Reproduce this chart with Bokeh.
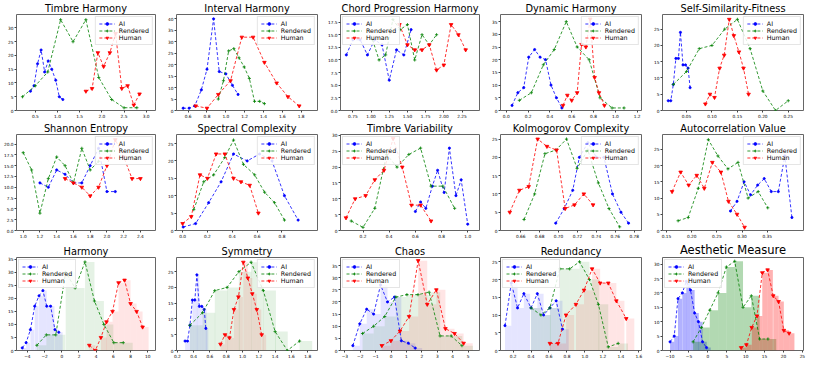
from bokeh.plotting import figure
from bokeh.layouts import gridplot
from bokeh.models import Range1d, FixedTicker, CustomJSTickFormatter, Legend, LegendItem
from bokeh.embed import file_html
from bokeh.resources import INLINE

# ---------------- data (bin positions / counts) ----------------
# Timbre Harmony
th_ai_x = [0.39, 0.47, 0.55, 0.63, 0.71, 0.79, 0.87, 0.96, 1.04, 1.12]
th_ai_y = [7, 9, 17, 22, 14, 18, 15, 11, 5, 4]
th_re_x = [0.21, 0.50, 0.78, 1.07, 1.35, 1.64, 1.93, 2.22, 2.50, 2.79]
th_re_y = [5, 9, 14, 33, 25, 33, 12, 4, 1, 1]
th_hu_x = [1.64, 1.78, 1.91, 2.04, 2.18, 2.31, 2.45, 2.58, 2.72, 2.85]
th_hu_y = [7, 8, 21, 16, 21, 28, 8, 9, 2, 6]
# Interval Harmony
ih_ai_x = [0.547, 0.61, 0.67, 0.74, 0.80, 0.87, 0.93, 1.00, 1.07, 1.13]
ih_ai_y = [1, 1, 2, 9, 18, 40, 17, 16, 11, 7]
ih_re_x = [0.92, 0.975, 1.03, 1.085, 1.14, 1.195, 1.25, 1.305, 1.36, 1.41]
ih_re_y = [5, 13, 26, 27, 23, 19, 14, 4, 4, 3]
ih_hu_x = [0.68, 0.80, 0.92, 1.05, 1.17, 1.29, 1.41, 1.54, 1.66, 1.78]
ih_hu_y = [2, 1, 7, 13, 32, 32, 21, 12, 6, 2]
# Chord Progression Harmony
cp_ai_x = [0.66, 0.75, 0.85, 0.95, 1.05, 1.15, 1.25, 1.35, 1.45, 1.55]
cp_ai_y = [11, 14, 14, 11, 14, 13, 6, 12, 11, 16]
cp_re_x = [1.02, 1.11, 1.20, 1.30, 1.40, 1.50, 1.60, 1.70, 1.80, 1.90]
cp_re_y = [14, 10, 11, 18, 16, 17, 10, 15, 13, 15]
cp_hu_x = [1.39, 1.50, 1.60, 1.70, 1.80, 1.90, 2.00, 2.10, 2.20, 2.30]
cp_hu_y = [17, 13, 12, 12, 13, 8, 9, 17, 15, 12]
# Dynamic Harmony
dh_ai_x = [0.053, 0.106, 0.16, 0.206, 0.26, 0.31, 0.36, 0.41, 0.46, 0.51]
dh_ai_y = [2, 7, 9, 21, 24, 21, 20, 10, 5, 1]
dh_re_x = [0.12, 0.23, 0.34, 0.44, 0.55, 0.65, 0.76, 0.86, 0.97, 1.08]
dh_re_y = [4, 7, 18, 24, 35, 25, 20, 5, 1, 1]
dh_hu_x = [0.52, 0.56, 0.60, 0.65, 0.69, 0.73, 0.77, 0.81, 0.85, 0.90]
dh_hu_y = [2, 6, 4, 7, 26, 25, 36, 13, 7, 2]
# Self-Similarity-Fitness
ss_ai_x = [0.014, 0.019, 0.024, 0.029, 0.034, 0.038, 0.043, 0.048, 0.053, 0.057]
ss_ai_y = [3, 3, 8, 16, 16, 24, 14, 14, 13, 7]
ss_re_x = [0.024, 0.05, 0.075, 0.10, 0.125, 0.15, 0.175, 0.20, 0.225, 0.25]
ss_re_y = [8, 12, 19, 20, 25, 28, 19, 6, 0, 3]
ss_hu_x = [0.087, 0.096, 0.105, 0.115, 0.124, 0.134, 0.143, 0.153, 0.162, 0.172]
ss_hu_y = [2, 5, 4, 13, 17, 28, 23, 18, 13, 5]
# Shannon Entropy
se_ai_x = [1.2, 1.3, 1.4, 1.5, 1.6, 1.7, 1.8, 1.9, 2.0, 2.1]
se_ai_y = [11, 10, 14, 13, 11, 11, 15, 19, 9, 9]
se_re_x = [1.0, 1.1, 1.2, 1.3, 1.4, 1.5, 1.6, 1.7, 1.8, 1.9]
se_re_y = [18, 14, 4, 12, 17, 15, 11, 19, 14, 16]
se_hu_x = [1.5, 1.6, 1.7, 1.8, 1.9, 2.0, 2.1, 2.2, 2.3, 2.4]
se_hu_y = [12, 11, 10, 8, 10, 15, 21, 17, 12, 12]
# Spectral Complexity
sc_ai_x = [0.005, 0.105, 0.21, 0.31, 0.41, 0.52, 0.62, 0.72, 0.82, 0.93]
sc_ai_y = [1, 2, 8, 14, 22, 20, 22, 20, 10, 3]
sc_re_x = [0.09, 0.17, 0.25, 0.34, 0.41, 0.49, 0.58, 0.66, 0.74, 0.82]
sc_re_y = [6, 14, 16, 21, 26, 19, 16, 11, 8, 3]
sc_hu_x = [0.0, 0.07, 0.14, 0.20, 0.27, 0.34, 0.41, 0.47, 0.54, 0.61]
sc_hu_y = [2, 4, 16, 15, 22, 22, 15, 14, 13, 5]
# Timbre Variability
tv_ai_x = [0.60, 0.64, 0.68, 0.73, 0.77, 0.82, 0.86, 0.91, 0.95, 1.0]
tv_ai_y = [6, 9, 7, 14, 19, 12, 26, 11, 16, 2]
tv_re_x = [0.11, 0.20, 0.29, 0.38, 0.46, 0.55, 0.64, 0.72, 0.81, 0.90]
tv_re_y = [3, 1, 7, 24, 20, 24, 26, 14, 14, 7]
tv_hu_x = [0.07, 0.14, 0.22, 0.29, 0.36, 0.43, 0.50, 0.57, 0.64, 0.72]
tv_hu_y = [4, 10, 11, 16, 19, 29, 20, 8, 8, 3]
# Kolmogorov Complexity
kc_ai_x = [0.697, 0.706, 0.715, 0.722, 0.731, 0.740, 0.748, 0.757, 0.766, 0.774]
kc_ai_y = [2, 6, 11, 20, 24, 20, 20, 10, 5, 2]
kc_re_x = [0.6635, 0.6747, 0.6856, 0.6972, 0.7084, 0.7196, 0.7309, 0.7421, 0.7533, 0.7646]
kc_re_y = [3, 10, 21, 22, 25, 17, 22, 13, 6, 1]
kc_hu_x = [0.6484, 0.6586, 0.6684, 0.6779, 0.6877, 0.6979, 0.707, 0.7168, 0.7267, 0.7365]
kc_hu_y = [5, 11, 12, 25, 23, 22, 6, 7, 10, 7]
# Autocorrelation Value
ac_ai_x = [0.277, 0.290, 0.304, 0.317, 0.331, 0.344, 0.358, 0.372, 0.385, 0.399]
ac_ai_y = [6, 9, 15, 11, 14, 16, 12, 12, 23, 4]
ac_re_x = [0.173, 0.193, 0.213, 0.233, 0.252, 0.272, 0.292, 0.312, 0.332, 0.351]
ac_re_y = [3, 4, 13, 28, 23, 19, 21, 10, 12, 7]
ac_hu_x = [0.161, 0.178, 0.194, 0.210, 0.225, 0.241, 0.258, 0.273, 0.290, 0.305]
ac_hu_y = [12, 18, 14, 17, 13, 21, 18, 9, 5, 1]
# Harmony
hm_ai_x = [-4.6, -4.15, -3.65, -3.15, -2.65, -2.2, -1.75, -1.3, -0.8, -0.35]
hm_ai_y = [1, 3, 8, 17, 21, 23, 17, 17, 8, 7]
hm_re_x = [-2.9, -1.8, -0.7, 0.45, 1.55, 2.7, 3.8, 4.9, 6.05, 7.15]
hm_re_y = [2, 6, 6, 30, 24, 34, 19, 10, 3, 3]
hm_hu_x = [3.2, 3.9, 4.55, 5.2, 5.9, 6.6, 7.3, 8.0, 8.7, 9.4]
hm_hu_y = [2, 0, 5, 11, 15, 26, 27, 18, 15, 9]
# Symmetry
sy_ai_x = [0.295, 0.325, 0.355, 0.385, 0.415, 0.44, 0.47, 0.50, 0.53, 0.55]
sy_ai_y = [3, 3, 8, 16, 16, 24, 14, 14, 13, 7]
sy_re_x = [0.355, 0.51, 0.66, 0.81, 0.955, 1.105, 1.255, 1.40, 1.55, 1.70]
sy_re_y = [8, 12, 19, 20, 25, 28, 19, 6, 0, 3]
sy_hu_x = [0.73, 0.785, 0.84, 0.895, 0.95, 1.01, 1.065, 1.12, 1.175, 1.235]
sy_hu_y = [2, 5, 4, 13, 17, 28, 23, 18, 13, 5]
# Chaos
ch_ai_x = [-2.48, -2.03, -1.58, -1.13, -0.68, -0.23, 0.22, 0.67, 1.12, 1.57]
ch_ai_y = [2, 11, 17, 15, 27, 20, 22, 4, 3, 1]
ch_re_x = [-1.85, -1.13, -0.41, 0.31, 1.03, 1.75, 2.47, 3.18, 3.9, 4.6]
ch_re_y = [7, 10, 14, 22, 23, 23, 24, 6, 6, 2]
ch_hu_x = [-0.6, -0.01, 0.58, 1.17, 1.76, 2.35, 2.94, 3.53, 4.12, 4.71]
ch_hu_y = [2, 4, 8, 14, 37, 19, 25, 9, 7, 3]
# Redundancy
rd_ai_x = [0.11, 0.18, 0.25, 0.32, 0.40, 0.47, 0.54, 0.61, 0.68, 0.75]
rd_ai_y = [7, 19, 12, 16, 12, 16, 10, 12, 14, 6]
rd_re_x = [0.40, 0.51, 0.61, 0.72, 0.83, 0.94, 1.05, 1.15, 1.26, 1.37]
rd_re_y = [12, 10, 12, 23, 23, 25, 20, 13, 1, 2]
rd_hu_x = [0.61, 0.70, 0.79, 0.90, 0.99, 1.08, 1.17, 1.26, 1.35, 1.46]
rd_hu_y = [2, 2, 10, 13, 17, 23, 19, 19, 14, 9]
# Aesthetic Measure
am_ai_x = [-10.0, -8.9, -7.9, -6.75, -5.7, -4.6, -3.5, -2.5, -1.4, -0.35]
am_ai_y = [3, 5, 18, 20, 24, 21, 13, 10, 3, 1]
am_re_x = [-3.9, -1.7, 0.5, 2.7, 4.9, 7.1, 9.3, 11.5, 13.7, 15.9]
am_re_y = [3, 8, 14, 20, 29, 31, 15, 19, 4, 4]
am_hu_x = [8.8, 10.2, 11.6, 13.0, 14.4, 15.8, 17.3, 18.7, 20.1, 21.5]
am_hu_y = [1, 2, 8, 12, 27, 28, 19, 17, 7, 6]

# ---------------- styling ----------------
W, H = 162, 120
FONT = "DejaVu Sans"
COLORS = {"AI": "#0000ff", "Rendered": "#008000", "Human": "#ff0000"}
MARKERS = {"AI": ("circle", 2.2), "Rendered": ("cross", 3.2), "Human": ("inverted_triangle", 3.6)}


def fmt(dec):
    return CustomJSTickFormatter(code="return tick.toFixed(%d).replace('-', '\\u2212');" % dec)


def ticks(a, b, step):
    out, v = [], a
    while v <= b + 1e-9:
        out.append(round(v, 6))
        v += step
    return out


def panel(title, series, xr, yr, xt, yt, xdec, ydec, loc, tsize="9.8px", bars=False, bar_alpha=0.1):
    p = figure(width=W, height=H, x_range=Range1d(*xr), y_range=Range1d(*yr),
               output_backend="svg", toolbar_location=None,
               min_border_left=14, min_border_right=7, min_border_top=2, min_border_bottom=6)
    p.title.text = title
    p.title.align = "center"
    p.title.text_font = FONT
    p.title.text_font_size = tsize
    p.title.text_font_style = "normal"
    p.title.text_color = "#000000"
    p.title.standoff = 1
    p.title.offset = 0
    p.xgrid.visible = False
    p.ygrid.visible = False
    p.outline_line_color = "#666666"
    p.outline_line_width = 1
    p.xaxis.ticker = FixedTicker(ticks=ticks(*xt))
    p.yaxis.ticker = FixedTicker(ticks=ticks(*yt))
    p.xaxis.formatter = fmt(xdec)
    p.yaxis.formatter = fmt(ydec)
    for ax in (p.xaxis[0], p.yaxis[0]):
        ax.axis_line_color = None
        ax.major_tick_line_color = "#444444"
        ax.major_tick_out = 2
        ax.major_tick_in = 0
        ax.minor_tick_line_color = None
        ax.major_label_text_font = FONT
        ax.major_label_text_font_size = "4.3px"
        ax.major_label_standoff = 1
        ax.major_label_text_color = "#000000"
    if bars:
        for name, (xs, ys) in series.items():
            dx = xs[1] - xs[0]
            p.quad(left=xs, right=[x + dx for x in xs], bottom=0, top=ys,
                   fill_color=COLORS[name], fill_alpha=bar_alpha, line_color=None)
    items = []
    for name, (xs, ys) in series.items():
        c = COLORS[name]
        mk, sz = MARKERS[name]
        l = p.line(xs, ys, line_color=c, line_dash="3 2", line_width=0.8)
        s = p.scatter(xs, ys, marker=mk, size=sz, fill_color=c, line_color=c, line_width=0.8)
        items.append(LegendItem(label=name, renderers=[l, s]))
    lg = Legend(items=items, location=loc)
    lg.label_text_font = FONT
    lg.label_text_font_size = "6.3px"
    lg.label_text_color = "#000000"
    lg.glyph_width = 16
    lg.glyph_height = 7
    lg.label_height = 7
    lg.label_standoff = 4
    lg.spacing = 0
    lg.padding = 3
    lg.margin = 2
    lg.border_line_color = "#cccccc"
    lg.background_fill_alpha = 0.85
    p.add_layout(lg)
    return p


plots = [
    panel("Timbre Harmony", {"AI": (th_ai_x, th_ai_y), "Rendered": (th_re_x, th_re_y), "Human": (th_hu_x, th_hu_y)},
          (0.075, 3.21), (0, 34.9), (0.5, 3.0, 0.5), (0, 30, 5), 1, 0, "top_right"),
    panel("Interval Harmony", {"AI": (ih_ai_x, ih_ai_y), "Rendered": (ih_re_x, ih_re_y), "Human": (ih_hu_x, ih_hu_y)},
          (0.476, 1.974), (0, 41.9), (0.6, 1.8, 0.2), (0, 40, 5), 1, 0, "top_right"),
    panel("Chord Progression Harmony", {"AI": (cp_ai_x, cp_ai_y), "Rendered": (cp_re_x, cp_re_y), "Human": (cp_hu_x, cp_hu_y)},
          (0.58, 2.49), (0, 19.0), (0.75, 2.25, 0.25), (0, 17.5, 2.5), 2, 1, "top_left"),
    panel("Dynamic Harmony", {"AI": (dh_ai_x, dh_ai_y), "Rendered": (dh_re_x, dh_re_y), "Human": (dh_hu_x, dh_hu_y)},
          (-0.053, 1.24), (0, 37.8), (0.0, 1.2, 0.2), (0, 35, 5), 1, 0, "top_right"),
    panel("Self-Similarity-Fitness", {"AI": (ss_ai_x, ss_ai_y), "Rendered": (ss_re_x, ss_re_y), "Human": (ss_hu_x, ss_hu_y)},
          (0.0027, 0.28), (0, 29.5), (0.05, 0.25, 0.05), (0, 25, 5), 2, 0, "top_right"),
    panel("Shannon Entropy", {"AI": (se_ai_x, se_ai_y), "Rendered": (se_re_x, se_re_y), "Human": (se_hu_x, se_hu_y)},
          (0.92, 2.58), (0, 22.2), (1.0, 2.4, 0.2), (0, 20, 2.5), 1, 1, "top_right"),
    panel("Spectral Complexity", {"AI": (sc_ai_x, sc_ai_y), "Rendered": (sc_re_x, sc_re_y), "Human": (sc_hu_x, sc_hu_y)},
          (-0.049, 1.086), (0, 27.6), (0.0, 0.8, 0.2), (0, 25, 5), 1, 0, "top_right"),
    panel("Timbre Variability", {"AI": (tv_ai_x, tv_ai_y), "Rendered": (tv_re_x, tv_re_y), "Human": (tv_hu_x, tv_hu_y)},
          (0.028, 1.09), (0, 30.3), (0.2, 1.0, 0.2), (0, 30, 5), 1, 0, "top_left"),
    panel("Kolmogorov Complexity", {"AI": (kc_ai_x, kc_ai_y), "Rendered": (kc_re_x, kc_re_y), "Human": (kc_hu_x, kc_hu_y)},
          (0.6386, 0.7877), (0, 26.25), (0.66, 0.78, 0.02), (0, 25, 5), 2, 0, "top_right"),
    panel("Autocorrelation Value", {"AI": (ac_ai_x, ac_ai_y), "Rendered": (ac_re_x, ac_re_y), "Human": (ac_hu_x, ac_hu_y)},
          (0.142, 0.422), (0, 29.6), (0.15, 0.35, 0.05), (0, 25, 5), 2, 0, "top_right"),
    panel("Harmony", {"AI": (hm_ai_x, hm_ai_y), "Rendered": (hm_re_x, hm_re_y), "Human": (hm_hu_x, hm_hu_y)},
          (-5.27, 10.9), (0, 35.7), (-4, 10, 2), (0, 35, 5), 0, 0, "top_left", bars=True),
    panel("Symmetry", {"AI": (sy_ai_x, sy_ai_y), "Rendered": (sy_re_x, sy_re_y), "Human": (sy_hu_x, sy_hu_y)},
          (0.19, 1.92), (0, 29.5), (0.2, 1.8, 0.2), (0, 25, 5), 1, 0, "top_right", bars=True),
    panel("Chaos", {"AI": (ch_ai_x, ch_ai_y), "Rendered": (ch_re_x, ch_re_y), "Human": (ch_hu_x, ch_hu_y)},
          (-3.28, 5.74), (0, 38.3), (-3, 5, 1), (0, 35, 5), 0, 0, "top_left", bars=True),
    panel("Redundancy", {"AI": (rd_ai_x, rd_ai_y), "Rendered": (rd_re_x, rd_re_y), "Human": (rd_hu_x, rd_hu_y)},
          (0.06, 1.63), (0, 26.2), (0.2, 1.6, 0.2), (0, 25, 5), 1, 0, "top_left", bars=True),
    panel("Aesthetic Measure", {"AI": (am_ai_x, am_ai_y), "Rendered": (am_re_x, am_re_y), "Human": (am_hu_x, am_hu_y)},
          (-12.0, 25.3), (0, 32.3), (-10, 25, 5), (0, 30, 5), 0, 0, "top_left", tsize="11.5px", bars=True, bar_alpha=0.3),
]

grid = gridplot([plots[0:5], plots[5:10], plots[10:15]], toolbar_location=None)
open("out.html", "w").write(file_html(grid, INLINE))
